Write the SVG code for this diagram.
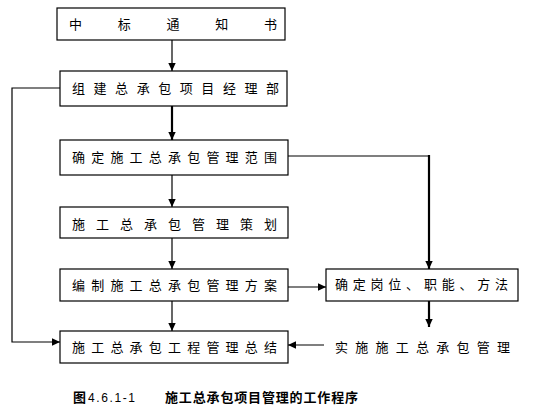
<svg xmlns="http://www.w3.org/2000/svg" width="544" height="410" viewBox="0 0 544 410">
<style>
.box{fill:#fff;stroke:#000;stroke-width:1.2}
.t{font-family:"Noto Sans CJK SC","Liberation Sans",sans-serif;font-size:13px;fill:#000}
.c{font-family:"Noto Sans CJK SC","Liberation Sans",sans-serif;font-size:13px;fill:#000;font-weight:bold}
.n{font-family:"Liberation Sans",sans-serif;font-size:12px;fill:#000}
.ln{fill:none;stroke:#000;stroke-width:1.2}
.th{fill:none;stroke:#000;stroke-width:2.2}
</style>
<defs>
<marker id="ah" markerUnits="userSpaceOnUse" markerWidth="9" markerHeight="9" viewBox="0 0 9 9" refX="8" refY="4.5" orient="auto">
<path d="M0,0.8 L8,4.5 L0,8.2 Z" fill="#000"/>
</marker>
</defs>
<g id="connectors">
<line class="ln" x1="172" y1="40" x2="172" y2="71" marker-end="url(#ah)"/>
<line class="th" x1="172" y1="106" x2="172" y2="140" marker-end="url(#ah)"/>
<line class="ln" x1="172" y1="175" x2="172" y2="207" marker-end="url(#ah)"/>
<line class="ln" x1="172" y1="238" x2="172" y2="269" marker-end="url(#ah)"/>
<line class="ln" x1="172" y1="301" x2="172" y2="331" marker-end="url(#ah)"/>
<polyline class="ln" points="60,88 12,88 12,342 60,342" marker-end="url(#ah)"/>
<polyline class="ln" points="288,156 429,156"/>
<line class="th" x1="429" y1="155" x2="429" y2="269" marker-end="url(#ah)"/>
<line class="ln" x1="288" y1="287" x2="326" y2="287" marker-end="url(#ah)"/>
<line class="th" x1="429" y1="301" x2="429" y2="327" marker-end="url(#ah)"/>
<line class="ln" x1="324" y1="345" x2="288" y2="345" marker-end="url(#ah)"/>
</g>
<g id="n1"><rect class="box" x="57" y="8" width="228" height="32"/><text class="t" x="69" y="29" textLength="208" lengthAdjust="spacing">中标通知书</text></g>
<g id="n2"><rect class="box" x="60" y="71" width="227" height="35"/><text class="t" x="72" y="93" textLength="207" lengthAdjust="spacing">组建总承包项目经理部</text></g>
<g id="n3"><rect class="box" x="60" y="140" width="228" height="35"/><text class="t" x="72" y="162" textLength="205" lengthAdjust="spacing">确定施工总承包管理范围</text></g>
<g id="n4"><rect class="box" x="60" y="207" width="228" height="31"/><text class="t" x="72" y="229" textLength="205" lengthAdjust="spacing">施工总承包管理策划</text></g>
<g id="n5"><rect class="box" x="60" y="269" width="228" height="32"/><text class="t" x="72" y="290" textLength="205" lengthAdjust="spacing">编制施工总承包管理方案</text></g>
<g id="n6"><rect class="box" x="60" y="331" width="228" height="32"/><text class="t" x="72" y="352" textLength="205" lengthAdjust="spacing">施工总承包工程管理总结</text></g>
<g id="n7"><rect class="box" x="326" y="269" width="192" height="32"/><text class="t" x="335" y="289" textLength="173" lengthAdjust="spacing">确定岗位、职能、方法</text></g>
<g id="n8"><text class="t" x="335" y="352" textLength="175" lengthAdjust="spacing">实施施工总承包管理</text></g>
<g id="caption">
<text class="c" x="73" y="402">图</text>
<text class="n" x="88" y="402" textLength="47" lengthAdjust="spacing">4.6.1-1</text>
<text class="c" x="165" y="402" textLength="193" lengthAdjust="spacing">施工总承包项目管理的工作程序</text>
</g>
</svg>
